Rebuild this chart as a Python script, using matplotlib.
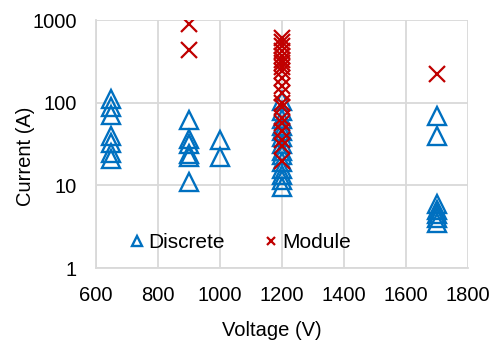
import matplotlib
matplotlib.use("Agg")
import matplotlib.pyplot as plt
from matplotlib.ticker import FixedLocator, FixedFormatter

# discrete devices: voltage -> current values
disc_650 = [110, 90, 72, 40, 33, 25, 21]
disc_900 = [62, 36, 32, 24, 22, 11]
disc_1000 = [35, 22]
disc_1200 = [105, 80, 63, 52, 45, 38, 32, 26, 23, 19, 16, 13.5, 11.5, 9.5]
disc_1700 = [70, 40, 6, 5, 4.5, 4, 3.5]

# modules
mod_900 = [900, 430]
mod_1200 = [600, 540, 480, 420, 370, 330, 300, 270, 245, 200, 160, 130,
            100, 90, 65, 57, 45, 35, 30, 20]
mod_1700 = [225]

x_ticks = [600, 800, 1000, 1200, 1400, 1600, 1800]
y_ticks = [1, 10, 100, 1000]

blue = "#0070C0"
red = "#C00000"
grid_col = "#D9D9D9"
fs = 14.5

plt.rcParams['font.family'] = ['Liberation Sans', 'DejaVu Sans']

disc = {650: disc_650, 900: disc_900, 1000: disc_1000, 1200: disc_1200, 1700: disc_1700}
mod = {900: mod_900, 1200: mod_1200, 1700: mod_1700}
dx = [v for v, ys in disc.items() for _ in ys]
dy = [y for ys in disc.values() for y in ys]
mx = [v for v, ys in mod.items() for _ in ys]
my = [y for ys in mod.values() for y in ys]

fig = plt.figure(figsize=(4.96, 3.41), dpi=100)
ax = fig.add_axes([0.1935, 0.214, 0.75, 0.727])

ax.plot(dx, dy, linestyle="none", marker="^", markersize=13.5, markerfacecolor="none",
        markeredgecolor=blue, markeredgewidth=1.7, label="Discrete")
ax.plot(mx, my, linestyle="none", marker="x", markersize=11, color=red,
        markeredgewidth=1.6, label="Module")

ax.set_yscale("log")
ax.set_xlim(600, 1800)
ax.set_ylim(1, 1000)
ax.xaxis.set_major_locator(FixedLocator(x_ticks))
ax.yaxis.set_major_locator(FixedLocator(y_ticks))
ax.yaxis.set_major_formatter(FixedFormatter([str(t) for t in y_ticks]))
ax.yaxis.set_minor_locator(FixedLocator([]))
ax.tick_params(axis="y", length=0, labelsize=fs, pad=14)
ax.tick_params(axis="x", length=0, labelsize=fs, pad=13)
ax.grid(True, color=grid_col, linewidth=1.3)
ax.set_axisbelow(True)
for s in ax.spines.values():
    s.set_color(grid_col)
    s.set_linewidth(1.3)
ax.spines["top"].set_visible(False)
ax.spines["right"].set_visible(False)

ax.set_xlabel("Voltage (V)", fontsize=fs)
ax.xaxis.set_label_coords(0.473, -0.215)
ax.set_ylabel("Current (A)", fontsize=fs)
ax.yaxis.set_label_coords(-0.165, 0.45)

leg = ax.legend(loc="center left", bbox_to_anchor=(0.094, 0.101), ncol=2, frameon=False,
                fontsize=fs + 0.5, markerscale=0.55, handlelength=0.6, handletextpad=0.25,
                columnspacing=1.9, borderpad=0, borderaxespad=0)

fig.savefig("out.png", dpi=100)
